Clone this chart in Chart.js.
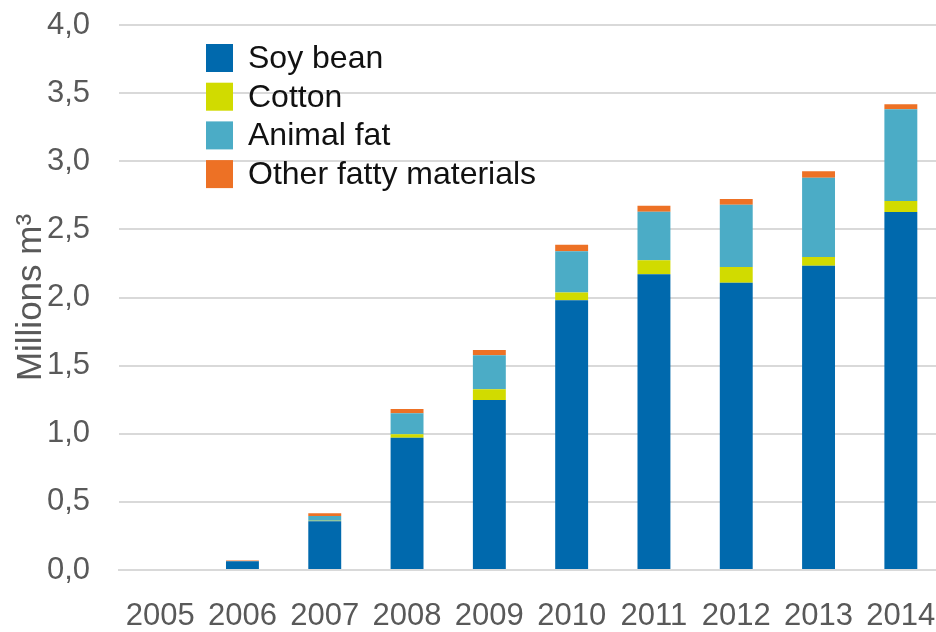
<!DOCTYPE html>
<html>

<head>
    <meta charset="utf-8">
    <title>Biodiesel feedstock</title>
    <style>
        html, body { margin: 0; padding: 0; background: #fff; overflow: hidden; }
    </style>
</head>

<body>
    <canvas id="myChart" width="942" height="632"></canvas>
    <script src="https://cdn.jsdelivr.net/npm/chart.js@4.4.6/dist/chart.umd.min.js"></script>
    <script>
        const years = ["2005", "2006", "2007", "2008", "2009", "2010", "2011", "2012", "2013", "2014"]
        const soyBean = [0, 0.065, 0.357, 0.971, 1.248, 1.98, 2.17, 2.109, 2.233, 2.627]
        const cotton = [0, 0, 0.005, 0.025, 0.078, 0.056, 0.103, 0.115, 0.064, 0.081]
        const animalFat = [0, 0, 0.034, 0.154, 0.25, 0.303, 0.357, 0.457, 0.582, 0.673]
        const otherFatty = [0, 0.004, 0.02, 0.032, 0.039, 0.049, 0.044, 0.042, 0.047, 0.037]
        const yTicks = [0, 0.5, 1, 1.5, 2, 2.5, 3, 3.5, 4]

        document.addEventListener("DOMContentLoaded", () => {
            const COLORS = {
                soy: "#0069ad",
                cotton: "#d1db00",
                animal: "#4bacc6",
                other: "#ed7125",
                grid: "#d9d9d9",
                text: "#595959",
            }
            const FONT = "'Liberation Sans', Arial, sans-serif"

            // legend sits inside the plot area, top left
            const legendInside = {
                id: "legendInside",
                afterDraw(chart) {
                    const ctx = chart.ctx
                    ctx.save()
                    ctx.font = "32px " + FONT
                    ctx.textBaseline = "middle"
                    ctx.textAlign = "left"
                    chart.data.datasets.forEach((ds, i) => {
                        const cy = 58 + i * 38.7
                        ctx.fillStyle = ds.backgroundColor
                        ctx.fillRect(206, cy - 14, 27, 28)
                        ctx.fillStyle = "#111"
                        ctx.fillText(ds.label, 248, cy + 1)
                    })
                    ctx.restore()
                },
            }

            const config = {
                type: "bar",
                data: {
                    labels: years,
                    datasets: [{
                        label: "Soy bean",
                        data: soyBean,
                        backgroundColor: COLORS.soy,
                    }, {
                        label: "Cotton",
                        data: cotton,
                        backgroundColor: COLORS.cotton,
                    }, {
                        label: "Animal fat",
                        data: animalFat,
                        backgroundColor: COLORS.animal,
                    }, {
                        label: "Other fatty materials",
                        data: otherFatty,
                        backgroundColor: COLORS.other,
                    }],
                },
                options: {
                    responsive: false,
                    animation: false,
                    devicePixelRatio: 1,
                    layout: {
                        padding: { top: 25, left: 10, right: 0, bottom: 0 },
                    },
                    datasets: {
                        bar: {
                            categoryPercentage: 1,
                            barPercentage: 0.4,
                        },
                    },
                    plugins: {
                        legend: { display: false },
                        tooltip: { enabled: false },
                    },
                    scales: {
                        x: {
                            stacked: true,
                            afterFit: scale => {
                                scale.height = 62
                                scale.paddingLeft = 0
                                scale.paddingRight = 0
                            },
                            grid: { display: false },
                            border: { display: true, color: COLORS.grid, width: 2 },
                            ticks: {
                                color: COLORS.text,
                                font: { family: FONT, size: 31 },
                                padding: 20,
                                maxRotation: 0,
                                autoSkip: false,
                            },
                        },
                        y: {
                            stacked: true,
                            min: 0,
                            max: 4,
                            afterBuildTicks: scale => {
                                scale.ticks = yTicks.map(v => ({ value: v }))
                            },
                            afterFit: scale => {
                                scale.width = 109
                                scale.paddingTop = 0
                                scale.paddingBottom = 0
                            },
                            grid: { color: COLORS.grid, lineWidth: 2, drawTicks: false },
                            border: { display: false },
                            ticks: {
                                color: COLORS.text,
                                font: { family: FONT, size: 31 },
                                padding: 29,
                                callback: v => v.toFixed(1).replace(".", ","),
                            },
                            title: {
                                display: true,
                                text: "Millions m³",
                                color: COLORS.text,
                                font: { family: FONT, size: 35 },
                                padding: 0,
                            },
                        },
                    },
                },
                plugins: [legendInside],
            }
            new Chart(document.getElementById("myChart"), config)
        })
    </script>
</body>

</html>
